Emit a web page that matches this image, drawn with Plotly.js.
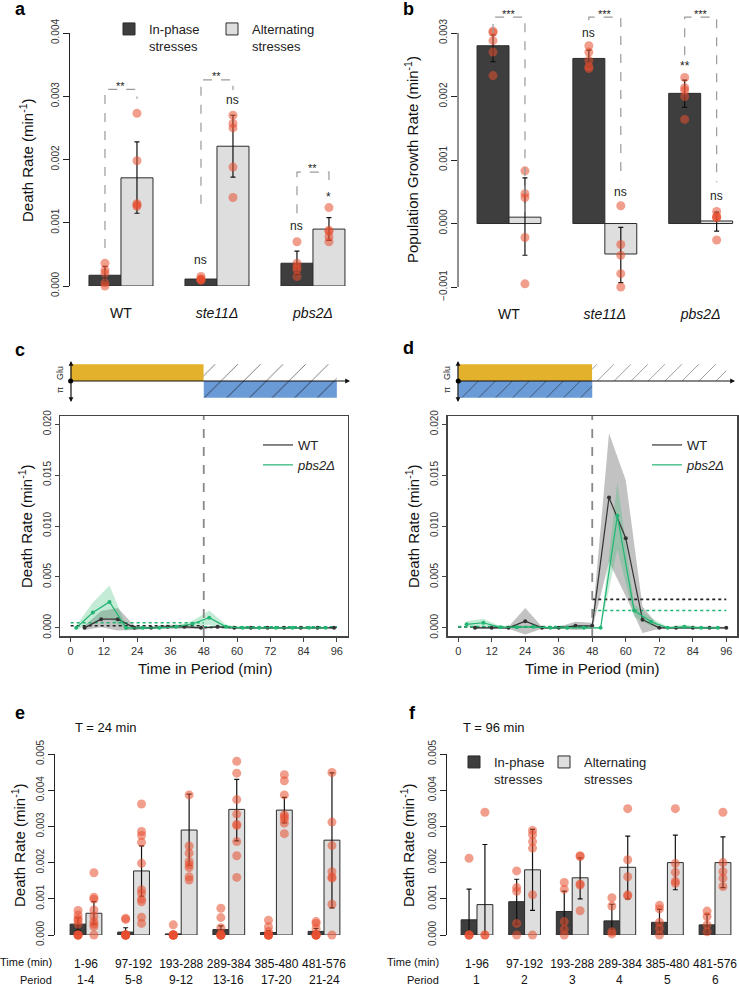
<!DOCTYPE html>
<html>
<head>
<meta charset="utf-8">
<script src="https://cdn.plot.ly/plotly-3.0.1.min.js"></script>
<style>
  html, body { margin: 0; padding: 0; background: #fff; }
  #plot { width: 739px; height: 988px; }
</style>
</head>
<body>
<div id="plot"></div>
<script>
// Figure size in px; axis domains are written in px and turned into paper units
const W = 739, H = 988;
const FONT = 'Liberation Sans, Arial, sans-serif';

// ---------- panels a and b: three strains ----------
const strains = ['WT', '<i>ste11Δ</i>', '<i>pbs2Δ</i>'];
const strainX = [1, 2, 3];

// a: death rate
const aIn = [0.00017, 0.00011, 0.00036];
const aInLo = [0.00004, 0.00009, 0.00018];
const aInHi = [0.00031, 0.00013, 0.00055];
const aAlt = [0.00171, 0.00221, 0.0009];
const aAltLo = [0.00115, 0.00172, 0.00072];
const aAltHi = [0.00228, 0.0027, 0.00108];
const aInPts = [[0.00036, 0.00025, 0.0002, 0.00005, 0.0], [0.00015, 0.00011, 0.0001, 0.0001, 0.00009], [0.0007, 0.00036, 0.0003, 0.00026, 0.00015]];
const aAltPts = [[0.00273, 0.00198, 0.0013, 0.00128, 0.00126], [0.0027, 0.00257, 0.0025, 0.00188, 0.0014], [0.00124, 0.00088, 0.00086, 0.00078, 0.0007]];
// a: significance brackets
const aBrTop = [0.00311, 0.00326, 0.0018];
const aBrLeft = [0.0006, 0.0013, 0.00115];
const aBrRight = [0.00296, 0.0031, 0.00163];
const aSig = ['**', '**', '**'];
const aSigY = [0.00316, 0.00332, 0.00187];
const aNsIn = ['', 'ns', 'ns'];
const aNsInY = [0, 0.00041, 0.00095];
const aNsAlt = ['', 'ns', '*'];
const aNsAltY = [0, 0.00294, 0.0014];

// b: population growth rate
const bIn = [0.0028, 0.0026, 0.00205];
const bInLo = [0.00255, 0.00247, 0.00183];
const bInHi = [0.00297, 0.00273, 0.00226];
const bAlt = [0.0001, -0.00048, 0.00004];
const bAltLo = [-0.0005, -0.00093, -0.00012];
const bAltHi = [0.00072, -0.00006, 0.00018];
const bInPts = [[0.00303, 0.00301, 0.00288, 0.0027, 0.00233], [0.0028, 0.0027, 0.00257, 0.00247, 0.00244], [0.0023, 0.00214, 0.0021, 0.002, 0.00164]];
const bAltPts = [[0.00083, 0.00047, 0.00041, -0.00022, -0.00095], [0.00028, -0.00033, -0.0005, -0.00079, -0.001], [0.00019, 0.00011, 0.0001, 0.00009, -0.00026]];
const bBrTop = [0.00325, 0.00325, 0.00325];
const bBrLeft = [0.003, 0.0032, 0.00265];
const bBrRight = [0.00016, 0.00068, 0.00065];
const bSig = ['***', '***', '***'];
const bSigY = [0.0033, 0.0033, 0.0033];
const bNsIn = ['', 'ns', '**'];
const bNsInY = [0, 0.003, 0.00248];
const bNsAlt = ['', 'ns', 'ns'];
const bNsAltY = [0, 0.00049, 0.00044];

// ---------- panels c and d: death rate within one period ----------
const halves = [0, 48, 96];
const cWtT = [5, 11, 17, 23, 29, 35, 41, 47, 53, 59, 65, 71, 77, 83, 89, 95];
const cWt = [0, 0.00085, 0.00085, 0, 0, 0.0001, 0.0001, 0, 0.0001, 0, 0, 0, 0, 0, 0, 0];
const cWtSe = [0.0002, 0.0008, 0.0011, 0.0002, 0.0001, 0.0002, 0.0002, 0.0001, 0.0001, 0.00005, 0.00005, 0.00005, 0.00005, 0.00005, 0.00005, 0.00005];
const cPbsT = [2, 8, 14, 20, 26, 32, 38, 44, 50, 56, 62, 68, 74, 80, 86, 92];
const cPbs = [0, 0.0015, 0.00255, 0, 0, 0, 0.0001, 0.0004, 0.001, 0.0001, 0, 0, 0, 0, 0, 0];
const cPbsSe = [0.0002, 0.001, 0.0016, 0.0002, 0.0001, 0.0001, 0.0001, 0.0003, 0.0007, 0.0002, 0.0001, 0.00005, 0.00005, 0.00005, 0.00005, 0.00005];
const cWtMean = [0.0002, 0.00005];
const cPbsMean = [0.0005, 0.0001];

const dWtT = [6, 12, 18, 24, 30, 36, 42, 48, 54, 60, 66, 72, 78, 84, 90, 96];
const dWt = [0, 0, 0, 0.00065, 0, 0, 0.0002, 0.0002, 0.0128, 0.0088, 0.0008, 0, 0, 0, 0, 0];
const dWtSe = [0.0001, 0.0001, 0.0001, 0.0013, 0.0001, 0.0001, 0.0004, 0.0003, 0.0063, 0.0057, 0.0013, 0.0001, 0.0001, 0.0001, 0.0001, 0.0001];
const dPbsT = [3, 9, 15, 21, 27, 33, 39, 45, 51, 57, 63, 69, 75, 81, 87, 93];
const dPbs = [0.00035, 0.0005, 0.00005, 0.00005, 0.0001, 0, 0, 0, 0, 0.011, 0.0017, 0.0006, 0, 0.0001, 0, 0];
const dPbsSe = [0.0003, 0.0004, 0.0001, 0.0001, 0.0001, 0.0001, 0.0001, 0.0001, 0.0001, 0.0033, 0.0006, 0.0004, 0.0001, 0.0002, 0.0001, 0.0001];
const dWtMean = [0.0001, 0.0028];
const dPbsMean = [0.00012, 0.0017];

// stress timing in the schemes above c and d (minutes)
const cGlu = [0, 48], cOsm = [48, 96], cOff = [48, 96];
const dGlu = [0, 48], dOsm = [0, 48], dOff = [48, 96];

// ---------- panels e and f: death rate per block of periods ----------
const blockX = [1, 2, 3, 4, 5, 6];
const blockTimes = ['1-96', '97-192', '193-288', '289-384', '385-480', '481-576'];
const ePeriods = ['1-4', '5-8', '9-12', '13-16', '17-20', '21-24'];
const fPeriods = ['1', '2', '3', '4', '5', '6'];

const eIn = [0.0003, 0.00008, 0.00003, 0.00015, 0.00007, 0.0001];
const eInLo = [0.00013, 0, 0.00002, 0.00005, 0.00002, 0.00002];
const eInHi = [0.00047, 0.0002, 0.00004, 0.00025, 0.00012, 0.00018];
const eAlt = [0.0006, 0.00177, 0.0029, 0.00347, 0.00345, 0.00262];
const eAltLo = [0.0003, 0.00107, 0.00192, 0.0026, 0.0031, 0.00075];
const eAltHi = [0.00092, 0.00246, 0.00389, 0.0043, 0.0038, 0.00448];
const eInPts = [
  [0.00068, 0.00055, 0.00045, 0.0004, 0.0003, 0, 0, 0, 0],
  [0.00046, 0.00043, 0, 0, 0, 0, 0, 0],
  [0.00028, 0, 0, 0, 0, 0, 0, 0],
  [0.00074, 0.00048, 0.0002, 0, 0, 0, 0, 0],
  [0.00041, 0.00023, 0.0001, 0, 0, 0, 0, 0],
  [0.00037, 0.00032, 0.00018, 0, 0, 0, 0, 0]
];
const eAltPts = [
  [0.00172, 0.00104, 0.00099, 0.00069, 0.00051, 0.00037, 0.0003, 0.00023, 0],
  [0.00362, 0.00286, 0.00275, 0.00256, 0.00198, 0.00125, 0.00115, 0.00099, 0.00092, 0.00049, 0.00032],
  [0.00593, 0.00567, 0.00387, 0.00246, 0.00226, 0.00203, 0.00194, 0.00186, 0.00161, 0.00152],
  [0.0048, 0.00447, 0.00374, 0.00334, 0.00306, 0.00302, 0.00258, 0.00219, 0.00159],
  [0.00443, 0.00426, 0.00387, 0.00332, 0.00327, 0.0032, 0.00309, 0.0028],
  [0.00449, 0.00312, 0.00247, 0.00175, 0.0016, 0.00157, 0.00085, 0]
];

const fIn = [0.00042, 0.00092, 0.00065, 0.00039, 0.00035, 0.00028];
const fInLo = [0, 0.0003, 0.00009, -0.00008, 0, 0];
const fInHi = [0.00127, 0.00154, 0.00121, 0.00085, 0.00071, 0.00057];
const fAlt = [0.00084, 0.0018, 0.00158, 0.00187, 0.002, 0.002];
const fAltLo = [0, 0.00068, 0.001, 0.001, 0.00125, 0.00131];
const fAltHi = [0.0025, 0.00292, 0.00213, 0.00273, 0.00276, 0.00271];
const fInPts = [
  [0.00212, 0, 0, 0],
  [0.00177, 0.00131, 0.00121, 0.00032, 0],
  [0.00145, 0.00126, 0.00037, 0.00016, 0],
  [0.00103, 0.0008, 0.00009, 0.00003],
  [0.00082, 0.00072, 0.00035, 0.00018, 0],
  [0.00066, 0.00051, 0.00028, 0.00009, -0.00003]
];
const fAltPts = [
  [0.00339, 0, 0],
  [0.00289, 0.00277, 0.00258, 0.0024, 0.00111, 0],
  [0.00219, 0.00217, 0.00141, 0.00138, 0.00067],
  [0.00349, 0.00208, 0.00161, 0.00111, 0.00108],
  [0.00349, 0.00198, 0.00173, 0.00149, 0.00143],
  [0.00339, 0.002, 0.00175, 0.00157, 0.00134]
];

// ---------- styles ----------
const DARK = '#3e3e3e', LIGHT = '#dedede';
const DOT = 'rgba(232,78,48,0.55)';
const WTC = '#333333', PBSC = '#22b573';
const YELLOW = '#e3b12b', BLUE = '#6b9bd6';
const BARGAP = 1 / 3;
const SHIFT = (1 - BARGAP) / 4;   // bar centre offset from group centre

const px = (a, b) => [a / W, b / W];
const py = (top, bot) => [1 - bot / H, 1 - top / H];

// ---------- trace builders ----------
function bars(xa, ya, xs, mean, lo, hi, color, name, legend) {
  return {
    type: 'bar', xaxis: xa, yaxis: ya, x: xs, y: mean, name: name,
    legend: legend || 'legend', showlegend: !!legend,
    marker: { color: color, line: { color: '#2b2b2b', width: 1 } },
    error_y: {
      type: 'data', symmetric: false,
      array: hi.map((v, i) => v - mean[i]),
      arrayminus: lo.map((v, i) => mean[i] - v),
      color: '#111', thickness: 1.2, width: 2.5
    },
    hoverinfo: 'y'
  };
}

function dots(xa, ya, xs, pts, shift) {
  const x = [], y = [];
  pts.forEach((g, i) => g.forEach(v => { x.push(xs[i] + shift); y.push(v); }));
  return {
    type: 'scatter', mode: 'markers', xaxis: xa, yaxis: ya, x: x, y: y,
    showlegend: false, cliponaxis: false, hoverinfo: 'y',
    marker: { size: 9, color: DOT }
  };
}

function band(xa, ya, t, m, se, color) {
  const up = m.map((v, i) => v + se[i]);
  const dn = m.map((v, i) => v - se[i]);
  return {
    type: 'scatter', mode: 'lines', xaxis: xa, yaxis: ya,
    x: t.concat(t.slice().reverse()), y: up.concat(dn.reverse()),
    fill: 'toself', fillcolor: color, line: { width: 0 },
    showlegend: false, hoverinfo: 'skip'
  };
}

function series(xa, ya, t, m, color, name, legend) {
  return [
    { type: 'scatter', mode: 'lines', xaxis: xa, yaxis: ya, x: t, y: m, name: name,
      legend: legend, line: { color: color, width: 1.2 } },
    { type: 'scatter', mode: 'markers', xaxis: xa, yaxis: ya, x: t, y: m, showlegend: false,
      marker: { color: color, size: 4 } }
  ];
}

function meanLine(xa, ya, means, color) {
  const x = [], y = [];
  means.forEach((m, i) => { x.push(halves[i], halves[i + 1], null); y.push(m, m, null); });
  return {
    type: 'scatter', mode: 'lines', xaxis: xa, yaxis: ya, x: x, y: y,
    line: { color: color, width: 1.6, dash: '3px,3px' }, showlegend: false, hoverinfo: 'skip'
  };
}

// one block of the stress scheme: a bar from r[0] to r[1], above (base 0) or below (base -1) the axis
function block(xa, ya, r, base, color, hatch, hatchSize) {
  const marker = { color: color, line: { width: 0 } };
  if (hatch) {
    marker.pattern = { shape: '/', fillmode: 'replace', bgcolor: color, fgcolor: hatch,
      size: hatchSize, solidity: 0.06 };
  }
  return {
    type: 'bar', xaxis: xa, yaxis: ya, showlegend: false, hoverinfo: 'skip',
    x: [r[0]], offset: 0, width: r[1] - r[0], base: [base], y: [1], marker: marker
  };
}
function scheme(xa, ya, glu, osm, off, hatchSize) {
  return [
    block(xa, ya, glu, 0, YELLOW),
    block(xa, ya, osm, -1, BLUE, '#2a3a50', hatchSize),
    block(xa, ya, off, 0, '#ffffff', '#777777', hatchSize),
    { type: 'scatter', mode: 'markers', xaxis: xa, yaxis: ya, x: [0], y: [0],
      cliponaxis: false, showlegend: false, hoverinfo: 'skip', marker: { color: '#000', size: 5 } }
  ];
}

// ---------- assemble traces ----------
const traces = [
  bars('x', 'y', strainX, aIn, aInLo, aInHi, DARK, 'In-phase<br>stresses', 'legend'),
  bars('x', 'y', strainX, aAlt, aAltLo, aAltHi, LIGHT, 'Alternating<br>stresses', 'legend5'),
  dots('x', 'y', strainX, aInPts, -SHIFT),
  dots('x', 'y', strainX, aAltPts, SHIFT),

  bars('x2', 'y2', strainX, bIn, bInLo, bInHi, DARK),
  bars('x2', 'y2', strainX, bAlt, bAltLo, bAltHi, LIGHT),
  dots('x2', 'y2', strainX, bInPts, -SHIFT),
  dots('x2', 'y2', strainX, bAltPts, SHIFT),

  ...scheme('x3', 'y3', cGlu, cOsm, cOff, 16),
  band('x4', 'y4', cWtT, cWt, cWtSe, 'rgba(120,120,120,0.45)'),
  band('x4', 'y4', cPbsT, cPbs, cPbsSe, 'rgba(60,190,120,0.3)'),
  meanLine('x4', 'y4', cWtMean, '#222'),
  meanLine('x4', 'y4', cPbsMean, PBSC),
  ...series('x4', 'y4', cWtT, cWt, WTC, 'WT', 'legend3'),
  ...series('x4', 'y4', cPbsT, cPbs, PBSC, '<i>pbs2Δ</i>', 'legend3'),

  ...scheme('x5', 'y5', dGlu, dOsm, dOff, 12),
  band('x6', 'y6', dWtT, dWt, dWtSe, 'rgba(120,120,120,0.45)'),
  band('x6', 'y6', dPbsT, dPbs, dPbsSe, 'rgba(60,190,120,0.3)'),
  meanLine('x6', 'y6', dWtMean, '#222'),
  meanLine('x6', 'y6', dPbsMean, PBSC),
  ...series('x6', 'y6', dWtT, dWt, WTC, 'WT', 'legend4'),
  ...series('x6', 'y6', dPbsT, dPbs, PBSC, '<i>pbs2Δ</i>', 'legend4'),

  bars('x7', 'y7', blockX, eIn, eInLo, eInHi, DARK),
  bars('x7', 'y7', blockX, eAlt, eAltLo, eAltHi, LIGHT),
  dots('x7', 'y7', blockX, eInPts, -SHIFT),
  dots('x7', 'y7', blockX, eAltPts, SHIFT),

  bars('x8', 'y8', blockX, fIn, fInLo, fInHi, DARK, 'In-phase<br>stresses', 'legend2'),
  bars('x8', 'y8', blockX, fAlt, fAltLo, fAltHi, LIGHT, 'Alternating<br>stresses', 'legend6'),
  dots('x8', 'y8', blockX, fInPts, -SHIFT),
  dots('x8', 'y8', blockX, fAltPts, SHIFT)
];

// ---------- axes ----------
const tickFont = { family: FONT, size: 10, color: '#333' };
function yBar(domain, range, dtick, line) {
  return {
    domain: domain, range: range, dtick: dtick, tick0: 0, tickformat: '.3f',
    showline: line !== false, linecolor: '#222', linewidth: 1, ticks: 'outside', ticklen: 6,
    tickcolor: '#222', tickangle: -90, tickfont: tickFont,
    showgrid: false, zeroline: false
  };
}
function xCat(domain, range, vals, text, size, standoff) {
  return {
    domain: domain, range: range, tickvals: vals, ticktext: text,
    showline: false, showgrid: false, zeroline: false, ticks: '',
    tickfont: { family: FONT, size: size, color: '#111' }, ticklabelstandoff: standoff
  };
}
function xTime(domain) {
  return {
    domain: domain, range: [-3.84, 99.84], tick0: 0, dtick: 12,
    showline: true, mirror: true, linecolor: '#444', linewidth: 1.5,
    ticks: 'outside', ticklen: 4, tickcolor: '#444', tickfont: { family: FONT, size: 11, color: '#333' },
    showgrid: false, zeroline: false
  };
}
function yTime(domain) {
  return {
    domain: domain, range: [-0.0008, 0.0208], tick0: 0, dtick: 0.005, tickformat: '.3f',
    showline: true, mirror: true, linecolor: '#444', linewidth: 1.5,
    ticks: 'outside', ticklen: 4, tickcolor: '#444', tickangle: -90, tickfont: tickFont,
    showgrid: false, zeroline: false
  };
}
const hidden = (domain, range) => ({
  domain: domain, range: range, visible: false, showgrid: false, zeroline: false
});

// ---------- shapes ----------
const shapes = [];
function brackets(xa, ya, top, left, right) {
  strainX.forEach((x, i) => {
    shapes.push({
      type: 'path', xref: xa, yref: ya,
      path: `M${x - SHIFT},${left[i]} L${x - SHIFT},${top[i]} L${x + SHIFT},${top[i]} L${x + SHIFT},${right[i]}`,
      line: { color: '#9a9a9a', width: 1.2, dash: 'dash' }
    });
  });
}
brackets('x', 'y', aBrTop, aBrLeft, aBrRight);
brackets('x2', 'y2', bBrTop, bBrLeft, bBrRight);
// panel b: the axis line only spans the labelled ticks, the plot area runs higher for the brackets
shapes.push({ type: 'line', xref: 'x2 domain', yref: 'y2', x0: 0, x1: 0, y0: -0.001, y1: 0.003,
  line: { color: '#222', width: 1 } });
[['x4', 'y4'], ['x6', 'y6']].forEach(([xa, ya]) => {
  shapes.push({
    type: 'line', xref: xa, yref: ya + ' domain', x0: 48, x1: 48, y0: 0, y1: 1,
    line: { color: '#888', width: 1.8, dash: 'dash' }
  });
});

// ---------- annotations ----------
const annotations = [];
function label(x, y, text, opts) {
  annotations.push(Object.assign({
    xref: 'paper', yref: 'paper', x: x / W, y: 1 - y / H, text: text, showarrow: false,
    xanchor: 'center', yanchor: 'middle', font: { family: FONT, size: 14, color: '#111' }
  }, opts || {}));
}
function sigLabels(xa, ya, texts, ys, shift, size) {
  strainX.forEach((x, i) => {
    if (!texts[i]) return;
    annotations.push({
      xref: xa, yref: ya, x: x + shift, y: ys[i], text: texts[i], showarrow: false,
      xanchor: 'center', yanchor: 'middle', font: { family: FONT, size: size, color: '#222' }
    });
  });
}
sigLabels('x', 'y', aSig, aSigY, 0, 11);
sigLabels('x', 'y', aNsIn, aNsInY, -SHIFT, 12);
sigLabels('x', 'y', aNsAlt, aNsAltY, SHIFT, 12);
sigLabels('x2', 'y2', bSig, bSigY, 0, 11);
sigLabels('x2', 'y2', bNsIn, bNsInY, -SHIFT, 12);
sigLabels('x2', 'y2', bNsAlt, bNsAltY, SHIFT, 12);

// panel letters
const bold = { family: FONT, size: 18, color: '#000' };
label(20, 9, '<b>a</b>', { font: bold });
label(408, 9, '<b>b</b>', { font: bold });
label(20, 350, '<b>c</b>', { font: bold });
label(408, 348, '<b>d</b>', { font: bold });
label(20, 713, '<b>e</b>', { font: bold });
label(413, 713, '<b>f</b>', { font: bold });

// axis titles
const titleFont = { family: FONT, size: 15, color: '#111' };
const rot = { textangle: -90, font: titleFont };
label(27, 160, 'Death Rate (min<sup>-1</sup>)', rot);
label(412, 160, 'Population Growth Rate (min<sup>-1</sup>)', rot);
label(25, 526, 'Death Rate (min<sup>-1</sup>)', rot);
label(412, 526, 'Death Rate (min<sup>-1</sup>)', rot);
label(18, 845, 'Death Rate (min<sup>-1</sup>)', rot);
label(407, 845, 'Death Rate (min<sup>-1</sup>)', rot);
label(205, 668, 'Time in Period (min)', { font: titleFont });
label(592, 668, 'Time in Period (min)', { font: titleFont });

// scheme axes: Glu / pi labels and arrows
const small = { family: FONT, size: 9, color: '#222' };
[[60, 71, 350], [447, 458, 735]].forEach(([lx, ox, tip]) => {
  label(lx, 373, 'Glu', { textangle: -90, font: small });
  label(lx, 390, 'π', { textangle: -90, font: small });
  const arrow = { xref: 'paper', yref: 'paper', text: '', showarrow: true, axref: 'pixel', ayref: 'pixel',
    arrowhead: 2, arrowsize: 0.8, arrowwidth: 1.2, arrowcolor: '#111', standoff: 0, startstandoff: 0 };
  annotations.push(Object.assign({}, arrow, { x: tip / W, y: 1 - 381 / H, ax: ox - tip, ay: 0 }));
  annotations.push(Object.assign({}, arrow, { x: ox / W, y: 1 - 361 / H, ax: 0, ay: 20 }));
  annotations.push(Object.assign({}, arrow, { x: ox / W, y: 1 - 402 / H, ax: 0, ay: -21 }));
});

// e / f headers and period rows
label(73, 727, 'T = 24 min', { xanchor: 'left', font: { family: FONT, size: 13, color: '#111' } });
label(461, 727, 'T = 96 min', { xanchor: 'left', font: { family: FONT, size: 13, color: '#111' } });
const rowFont = { family: FONT, size: 11, color: '#111' };
label(54, 962, 'Time (min)', { xanchor: 'right', font: rowFont });
label(54, 980, 'Period', { xanchor: 'right', font: rowFont });
label(441, 962, 'Time (min)', { xanchor: 'right', font: rowFont });
label(441, 980, 'Period', { xanchor: 'right', font: rowFont });
[['x7', ePeriods], ['x8', fPeriods]].forEach(([xa, periods]) => {
  periods.forEach((p, i) => {
    annotations.push({
      xref: xa, yref: 'paper', x: blockX[i], y: 1 - 980 / H, text: p, showarrow: false,
      xanchor: 'center', yanchor: 'middle', font: { family: FONT, size: 12, color: '#111' }
    });
  });
});

// ---------- legends ----------
const legFont = { family: FONT, size: 13, color: '#222' };
const leg = (x, y) => ({ x: x / W, y: 1 - y / H, xanchor: 'left', yanchor: 'top', valign: 'top',
  font: legFont, bgcolor: 'rgba(0,0,0,0)', itemclick: false, itemdoubleclick: false });

const layout = {
  width: W, height: H,
  margin: { l: 0, r: 0, t: 0, b: 0 },
  paper_bgcolor: '#fff', plot_bgcolor: 'rgba(0,0,0,0)',
  font: { family: FONT, color: '#111' },
  barmode: 'group', bargap: BARGAP, bargroupgap: 0,
  showlegend: true,
  legend: leg(109, 14),
  legend5: leg(212, 14),
  legend2: leg(454, 747),
  legend6: leg(544, 747),
  legend3: leg(258, 430),
  legend4: leg(647, 430),

  xaxis: xCat(px(70, 360), [0.469, 3.49], strainX, strains, 14, 17),
  yaxis: yBar(py(33, 286), [0, 0.004], 0.001),
  xaxis2: xCat(px(458, 739), [0.468, 3.40], strainX, strains, 14, 17),
  yaxis2: yBar(py(5, 287), [-0.001, 0.003442], 0.001, false),

  xaxis3: hidden(px(60, 347.5), [-3.84, 99.84]),
  yaxis3: hidden(py(361, 401), [-1.2, 1.2]),
  xaxis4: xTime(px(60, 347.5)),
  yaxis4: yTime(py(416, 636)),

  xaxis5: hidden(px(447.5, 737), [-3.84, 99.84]),
  yaxis5: hidden(py(361, 401), [-1.2, 1.2]),
  xaxis6: xTime(px(447.5, 737)),
  yaxis6: yTime(py(416, 636)),

  xaxis7: xCat(px(55, 360), [0.349, 6.756], blockX, blockTimes, 12, 20),
  yaxis7: yBar(py(754, 935), [0, 0.005], 0.001),
  xaxis8: xCat(px(447, 739), [0.37, 6.504], blockX, blockTimes, 12, 20),
  yaxis8: yBar(py(754, 935), [0, 0.005], 0.001),

  shapes: shapes,
  annotations: annotations
};

// tie every axis to its partner so each panel keeps its own axes
['', '2', '3', '4', '5', '6', '7', '8'].forEach(s => {
  layout['xaxis' + s].anchor = 'y' + s;
  layout['yaxis' + s].anchor = 'x' + s;
});

Plotly.newPlot('plot', traces, layout, { displayModeBar: false, staticPlot: true });
</script>
</body>
</html>
